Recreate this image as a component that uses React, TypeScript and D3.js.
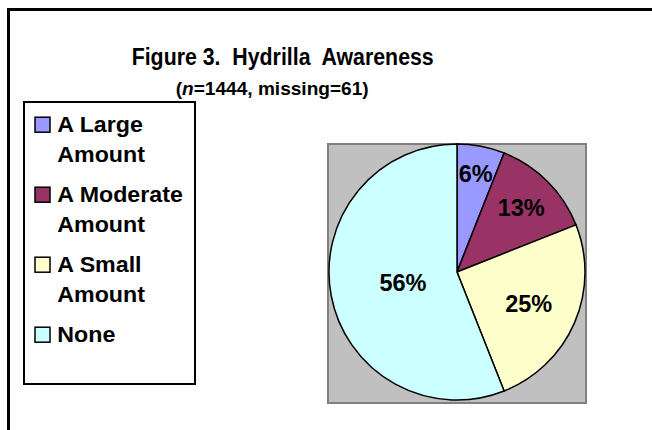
import React from "react";
import * as d3 from "d3";

const categories = ["A Large Amount", "A Moderate Amount", "A Small Amount", "None"];
const legendLines = [["A Large", "Amount"], ["A Moderate", "Amount"], ["A Small", "Amount"], ["None"]];
const values = [6, 13, 25, 56];
const valueLabels = ["6%", "13%", "25%", "56%"];
const colors = ["#9999FF", "#993366", "#FFFFCC", "#CCFFFF"];
const labelRadiusFactor = [0.78, 0.71, 0.61, 0.43];
const title = "Figure 3.  Hydrilla  Awareness";

const W = 652;
const H = 430;
const FONT = "'Liberation Sans', Arial, Helvetica, sans-serif";

export default function App() {
  const plot = { x: 328, y: 144, w: 258, h: 259 };
  const cx = 457;
  const cy = 272;
  const r = 128;

  const pie = d3.pie<number>().sort(null).value((d) => d)(values);
  const arc = d3.arc<d3.PieArcDatum<number>>().innerRadius(0).outerRadius(r);

  const legendX = 24;
  const legendY = 102;
  const legendW = 171;
  const legendH = 282;
  const entryStart = 131.7;
  const entryStep = 70;
  const lineStep = 30;

  return (
    <svg
      width={W}
      height={H}
      style={{ position: "absolute", left: 0, top: 0, background: "#fff" }}
      fontFamily={FONT}
    >
      <rect x={0} y={0} width={W} height={H} fill="#fff" />
      {/* outer chart border */}
      <path d={`M8.5,${H + 5} L8.5,9.5 L${W + 5},9.5`} fill="none" stroke="#000" strokeWidth={3} />

      {/* title */}
      <text
        x={131.7}
        y={65}
        fontSize={23.5}
        fontWeight="bold"
        textLength={302}
        lengthAdjust="spacingAndGlyphs"
        style={{ whiteSpace: "pre" }}
        fill="#000"
      >
        {title}
      </text>
      <text
        x={175.7}
        y={95}
        fontSize={19}
        fontWeight="bold"
        textLength={193}
        lengthAdjust="spacingAndGlyphs"
        fill="#000"
      >
        (<tspan fontStyle="italic">n</tspan>=1444, missing=61)
      </text>

      {/* legend */}
      <rect x={legendX} y={legendY} width={legendW} height={legendH} fill="#fff" stroke="#000" strokeWidth={2} />
      {categories.map((c, i) => {
        const base = entryStart + i * entryStep;
        return (
          <g key={c}>
            <rect x={35} y={base - 14.5} width={15} height={15} fill={colors[i]} stroke="#000" strokeWidth={1.5} />
            {legendLines[i].map((ln, j) => (
              <text
                key={j}
                transform={`translate(57.3,${base + j * lineStep}) scale(1.08,1)`}
                fontSize={21.5}
                fontWeight="bold"
                fill="#000"
              >
                {ln}
              </text>
            ))}
          </g>
        );
      })}

      {/* plot area */}
      <rect x={plot.x} y={plot.y} width={plot.w} height={plot.h} fill="#C0C0C0" stroke="#808080" strokeWidth={2} />

      {/* pie */}
      <g transform={`translate(${cx},${cy})`}>
        {pie.map((p, i) => (
          <path key={i} d={arc(p) || ""} fill={colors[i]} stroke="#000" strokeWidth={1.5} />
        ))}
        {pie.map((p, i) => {
          const a = (p.startAngle + p.endAngle) / 2;
          const rr = r * labelRadiusFactor[i];
          const x = Math.sin(a) * rr;
          const y = -Math.cos(a) * rr;
          return (
            <text
              key={"l" + i}
              x={x}
              y={y + 8.5}
              textAnchor="middle"
              fontSize={23.5}
              fontWeight="bold"
              fill="#000"
            >
              {valueLabels[i]}
            </text>
          );
        })}
      </g>
    </svg>
  );
}
